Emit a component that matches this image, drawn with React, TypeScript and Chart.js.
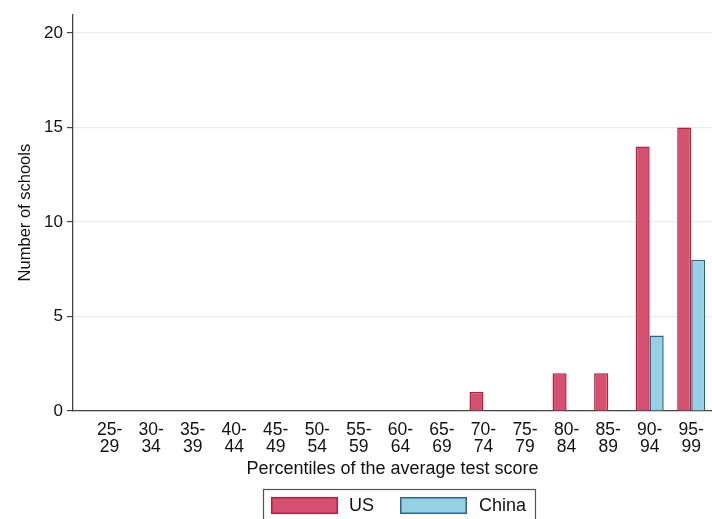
import React, { useEffect, useRef } from "react";
import { Chart, registerables } from "chart.js";

Chart.register(...registerables);

const categories = ["25-29", "30-34", "35-39", "40-44", "45-49", "50-54", "55-59", "60-64", "65-69", "70-74", "75-79", "80-84", "85-89", "90-94", "95-99"];
const usValues = [0, 0, 0, 0, 0, 0, 0, 0, 0, 1, 0, 2, 2, 14, 15];
const chinaValues = [0, 0, 0, 0, 0, 0, 0, 0, 0, 0, 0, 0, 0, 4, 8];
const yTicks = [0, 5, 10, 15, 20];

const FONT = "'Liberation Sans', Arial, Helvetica, sans-serif";

const legendBoxPlugin = {
  id: "legendBox",
  afterDraw(chart: any) {
    const ctx = chart.ctx;
    ctx.save();
    ctx.strokeStyle = "#555";
    ctx.lineWidth = 1.2;
    ctx.strokeRect(263.5, 489.5, 272, 40);
    const items = [
      { x: 271, tx: 349, ds: chart.data.datasets[0] },
      { x: 400, tx: 479, ds: chart.data.datasets[1] },
    ];
    ctx.font = `18px ${FONT}`;
    ctx.textBaseline = "middle";
    for (const it of items) {
      ctx.fillStyle = it.ds.backgroundColor;
      ctx.fillRect(it.x, 497, 67, 17);
      ctx.strokeStyle = it.ds.borderColor;
      ctx.lineWidth = 1.5;
      ctx.strokeRect(it.x + 0.75, 497.75, 65.5, 15.5);
      ctx.fillStyle = "#111";
      ctx.fillText(it.ds.label, it.tx, 506);
    }
    ctx.restore();
  },
};

export default function App() {
  const ref = useRef<HTMLCanvasElement | null>(null);
  useEffect(() => {
    if (!ref.current) return;
    const chart = new Chart(ref.current, {
      type: "bar",
      data: {
        datasets: [
          {
            label: "US",
            data: usValues.map((v, i) => ({ x: i, y: v })),
            backgroundColor: "rgb(212,82,112)",
            borderColor: "rgb(196,24,64)",
            borderWidth: 1.5,
            categoryPercentage: 0.675,
            barPercentage: 1,
          },
          {
            label: "China",
            data: chinaValues.map((v, i) => ({ x: i, y: v })),
            backgroundColor: "rgb(150,208,228)",
            borderColor: "rgb(44,100,140)",
            borderWidth: 1.5,
            categoryPercentage: 0.675,
            barPercentage: 1,
          },
        ],
      },
      options: {
        animation: false,
        responsive: false,
        maintainAspectRatio: false,
        layout: { padding: { top: 11, right: 0, bottom: 0, left: 0 } },
        plugins: { legend: { display: false }, tooltip: { enabled: false } },
        scales: {
          x: {
            type: "linear",
            offset: false,
            min: -0.88,
            max: 14.5,
            afterFit(scale: any) {
              scale.height = 108;
              scale.paddingLeft = 0;
              scale.paddingRight = 0;
            },
            afterBuildTicks(scale: any) {
              scale.ticks = categories.map((_, i) => ({ value: i }));
            },
            ticks: {
              autoSkip: false,
              maxRotation: 0,
              padding: 11,
              color: "#111",
              font: { family: FONT, size: 17.5, lineHeight: "17px" },
              callback: (v: any) => {
                const s = categories[v as number] || "";
                const [a, b] = s.split("-");
                return [a + "-", b];
              },
            },
            grid: { display: false, drawTicks: false },
            border: { display: true, color: "#444", width: 1.3 },
            title: {
              display: true,
              text: "Percentiles of the average test score",
              color: "#111",
              font: { family: FONT, size: 18 },
              padding: { top: 0, bottom: 39 },
            },
          },
          y: {
            min: 0,
            max: 21,
            afterFit(scale: any) {
              scale.width = 73;
            },
            afterBuildTicks(scale: any) {
              scale.ticks = yTicks.map((v) => ({ value: v }));
            },
            ticks: {
              padding: 4,
              color: "#111",
              font: { family: FONT, size: 17 },
            },
            grid: {
              color: (c: any) => (c.tick && c.tick.value === 0 ? "rgba(0,0,0,0)" : "#e6eef1"),
              tickColor: "#444",
              tickLength: 6,
              lineWidth: 1.2,
            },
            border: { display: true, color: "#444", width: 1.3 },
            title: {
              display: true,
              text: "Number of schools",
              color: "#111",
              font: { family: FONT, size: 16.5 },
              padding: { top: 15.5, bottom: 0 },
            },
          },
        },
      },
      plugins: [legendBoxPlugin],
    } as any);
    return () => chart.destroy();
  }, []);
  return (
    <div style={{ position: "absolute", left: 0, top: 0, width: 712, height: 519, background: "#fff" }}>
      <canvas ref={ref} width={712} height={519} style={{ width: 712, height: 519, display: "block" }} />
    </div>
  );
}
